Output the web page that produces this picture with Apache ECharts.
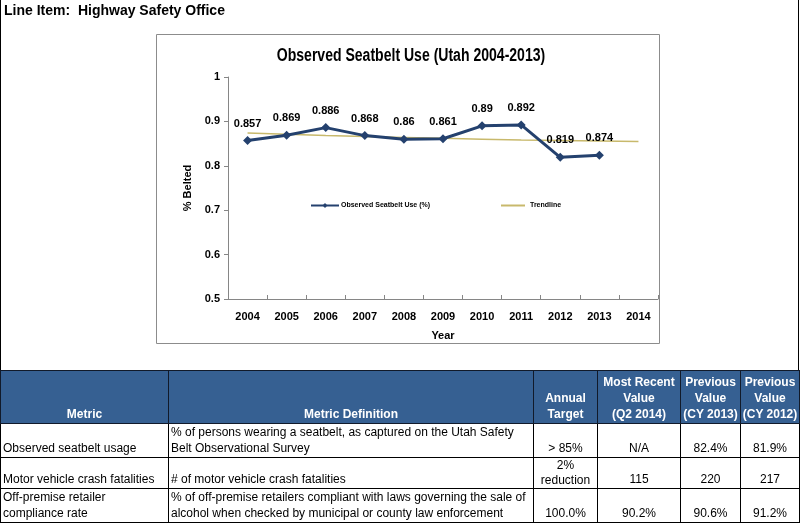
<!DOCTYPE html>
<html>
<head>
<meta charset="utf-8">
<script src="https://cdn.jsdelivr.net/npm/echarts@6/dist/echarts.min.js"></script>
<style>
  html, body { margin: 0; padding: 0; background: #fff; }
  #page { position: relative; width: 800px; height: 523px; overflow: hidden; background: #fff; }
  #frame { position: absolute; left: 0; top: 0; width: 797px; height: 521px; border: 1px solid #000; border-top: none; box-sizing: content-box; }
  #chart { position: absolute; left: 0; top: 0; width: 800px; height: 523px; }
  #title { position: absolute; left: 4px; top: 2px; font: bold 14px 'Liberation Sans', Arial, sans-serif; white-space: pre; color: #000; }
  #tbl { position: absolute; left: 0; top: 370px; width: 799px; border-collapse: collapse; table-layout: fixed; font-family: 'Liberation Sans', Arial, sans-serif; font-size: 12px; }
  #tbl td, #tbl th { border: 1px solid #000; padding: 0 2px 1px 2px; vertical-align: bottom; line-height: 16px; overflow: hidden; }
  #tbl th { background: #366092; color: #fff; font-weight: bold; text-align: center; border-color: #111a2a; padding: 0 0 1px 0; white-space: nowrap; }
  #tbl td { color: #000; background: #fff; }
  #tbl td.c { text-align: center; padding: 0 0 1px 0; white-space: nowrap; }
  #tbl td.l { text-align: left; }
  #tbl td.tight { line-height: 15px; padding-bottom: 0; }
  #tbl tr.h { height: 53px; }
</style>
</head>
<body>
<div id="page">
  <div id="chart"></div>
  <div id="frame"></div>
  <div id="title">Line Item:  Highway Safety Office</div>
  <table id="tbl">
    <colgroup>
      <col style="width:168px"><col style="width:365px"><col style="width:64px"><col style="width:83px"><col style="width:60px"><col style="width:59px">
    </colgroup>
    <tr class="h">
      <th>Metric</th><th>Metric Definition</th><th>Annual<br>Target</th><th>Most Recent<br>Value<br>(Q2 2014)</th><th>Previous<br>Value<br>(CY 2013)</th><th>Previous<br>Value<br>(CY 2012)</th>
    </tr>
    <tr style="height:34px">
      <td class="l">Observed seatbelt usage</td><td class="l">% of persons wearing a seatbelt, as captured on the Utah Safety Belt Observational Survey</td><td class="c">&gt; 85%</td><td class="c">N/A</td><td class="c">82.4%</td><td class="c">81.9%</td>
    </tr>
    <tr style="height:30px">
      <td class="l">Motor vehicle crash fatalities</td><td class="l"># of motor vehicle crash fatalities</td><td class="c tight">2%<br>reduction</td><td class="c">115</td><td class="c">220</td><td class="c">217</td>
    </tr>
    <tr style="height:34px">
      <td class="l">Off-premise retailer compliance rate</td><td class="l">% of off-premise retailers compliant with laws governing the sale of alcohol when checked by municipal or county law enforcement</td><td class="c">100.0%</td><td class="c">90.2%</td><td class="c">90.6%</td><td class="c">91.2%</td>
    </tr>
  </table>
</div>
<script>
// ---- data ----
const years = ['2004','2005','2006','2007','2008','2009','2010','2011','2012','2013','2014'];
const observed = [0.857, 0.869, 0.886, 0.868, 0.860, 0.861, 0.890, 0.892, 0.819, 0.824];
const observedLabels = ['0.857','0.869','0.886','0.868','0.86','0.861','0.89','0.892','0.819','0.874'];
const trendline = [0.874, 0.871, 0.868, 0.866, 0.864, 0.862, 0.860, 0.858, 0.857, 0.856, 0.855];
const yTicks = { min: 0.5, max: 1, step: 0.1 };
const chartTitle = 'Observed Seatbelt Use (Utah 2004-2013)';
const seriesNames = ['Observed Seatbelt Use (%)', 'Trendline'];

const FONT = "'Liberation Sans', Arial, sans-serif";
const chart = echarts.init(document.getElementById('chart'), null, { renderer: 'canvas' });
chart.setOption({
  animation: false,
  backgroundColor: 'transparent',
  graphic: [
    { type: 'rect', shape: { x: 156.5, y: 34.5, width: 503, height: 309 },
      style: { fill: 'none', stroke: '#8c8c8c', lineWidth: 1 }, silent: true },
    { type: 'text', x: 411, y: 56, scaleX: 0.78, silent: true,
      style: { text: chartTitle, fontFamily: FONT, fontWeight: 'bold', fontSize: 18, fill: '#000',
               textAlign: 'center', textVerticalAlign: 'middle', align: 'center', verticalAlign: 'middle' } }
  ],
  legend: [
    { data: [seriesNames[0]], left: 305, top: 197, itemWidth: 28, itemHeight: 6, itemGap: 2,
      textStyle: { fontFamily: FONT, fontWeight: 'bold', fontSize: 7, color: '#000', padding: [0,0,0,-3] } },
    { data: [{ name: seriesNames[1], icon: 'rect' }], left: 496, top: 197, itemWidth: 24, itemHeight: 2, itemGap: 2,
      textStyle: { fontFamily: FONT, fontWeight: 'bold', fontSize: 7, color: '#000' } }
  ],
  grid: { left: 228, top: 77, width: 430, height: 222, containLabel: false },
  xAxis: {
    type: 'category', data: years, boundaryGap: true,
    name: 'Year', nameLocation: 'middle', nameGap: 31,
    nameTextStyle: { fontFamily: FONT, fontWeight: 'bold', fontSize: 11, color: '#000' },
    axisLine: { lineStyle: { color: '#868686', width: 1 } },
    axisTick: { show: true, inside: true, length: 4, interval: 0, alignWithLabel: false, lineStyle: { color: '#868686' } },
    axisLabel: { interval: 0, margin: 12, fontFamily: FONT, fontWeight: 'bold', fontSize: 11, color: '#000' },
    splitLine: { show: false }
  },
  yAxis: {
    type: 'value', min: yTicks.min, max: yTicks.max, interval: yTicks.step,
    name: '% Belted', nameLocation: 'middle', nameGap: 31, nameRotate: 90,
    nameTextStyle: { fontFamily: FONT, fontWeight: 'bold', fontSize: 11, color: '#000' },
    axisLine: { show: true, lineStyle: { color: '#868686', width: 1 } },
    axisTick: { show: true, inside: false, length: 4, lineStyle: { color: '#868686' } },
    axisLabel: { margin: 8, fontFamily: FONT, fontWeight: 'bold', fontSize: 11, color: '#000',
      formatter: v => String(Math.round(v * 10) / 10) },
    splitLine: { show: false }
  },
  series: [
    {
      name: seriesNames[1], type: 'line', data: trendline, symbol: 'none', z: 1,
      lineStyle: { color: '#c8b96c', width: 1.5 }, itemStyle: { color: '#c8b96c' }
    },
    {
      name: seriesNames[0], type: 'line', data: observed, symbol: 'diamond', symbolSize: 9, z: 2,
      lineStyle: { color: '#24416e', width: 3 }, itemStyle: { color: '#24416e' },
      label: { show: true, position: 'top', distance: 7, fontFamily: FONT, fontWeight: 'bold', fontSize: 11, color: '#000',
        formatter: p => observedLabels[p.dataIndex] }
    }
  ]
});
</script>
</body>
</html>
